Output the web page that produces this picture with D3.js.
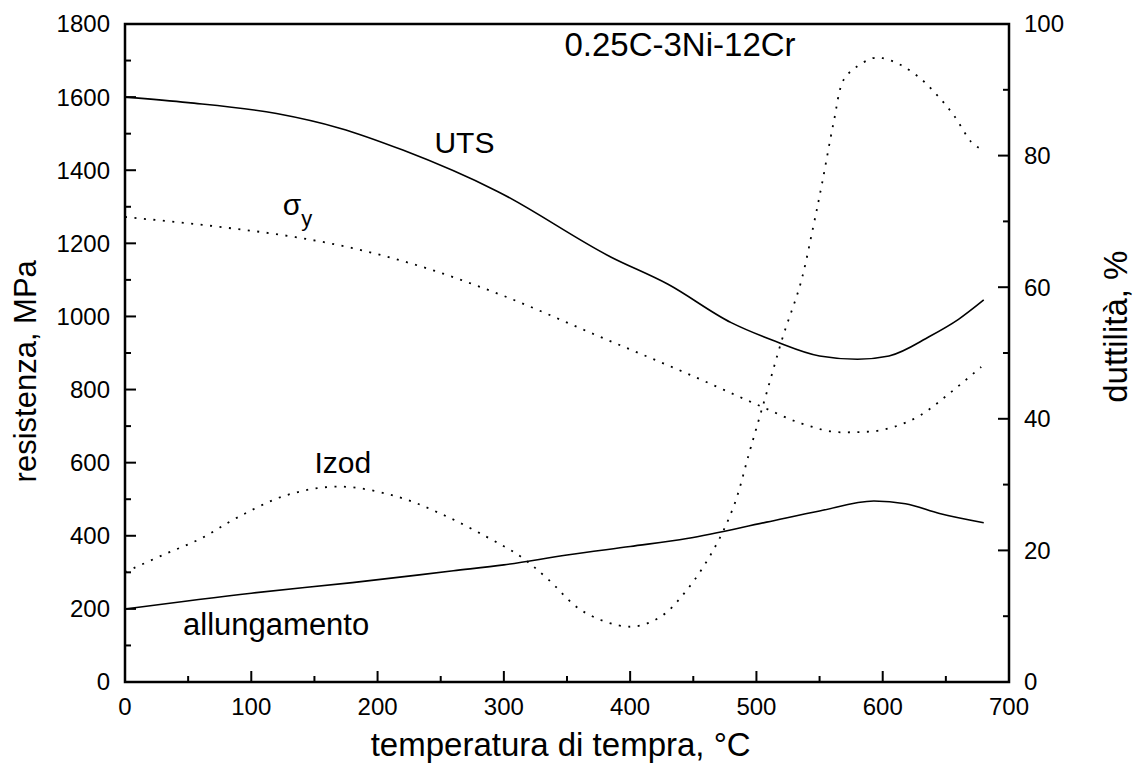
<!DOCTYPE html>
<html>
<head>
<meta charset="utf-8">
<script src="https://cdn.jsdelivr.net/npm/d3@7"></script>
<style>
  body { margin: 0; background: #fff; }
  svg { font-family: "Liberation Sans", Arial, sans-serif; }
  .tick-label { font-size: 24px; fill: #000; }
  .axis-title { font-size: 31px; fill: #000; }
  .label { font-size: 30px; fill: #000; }
</style>
</head>
<body>
<div id="chart"></div>
<script>
// temperatura di tempra (°C) vs resistenza (MPa) / duttilità (%)
let utsTemp = [0, 50, 120, 170, 220, 295, 385, 430, 480, 515, 550, 580, 605, 637, 660, 680];
let utsVal  = [1600, 1585, 1555, 1515, 1455, 1342, 1162, 1088, 983, 932, 892, 883, 892, 945, 992, 1045];

let yieldTemp = [0, 75, 135, 180, 235, 300, 375, 445, 505, 535, 568, 590, 608, 630, 653, 678];
let yieldVal  = [1272, 1245, 1217, 1187, 1136, 1056, 946, 844, 752, 708, 683, 685, 697, 730, 790, 862];

// right axis (%)
let izodTemp = [0, 30, 60, 90, 128, 170, 215, 252, 286, 313, 334, 363, 400, 424, 445, 466, 482, 495, 508, 521, 535, 545, 552, 561, 569, 578, 592, 600, 614, 630, 643, 656, 670, 676];
let izodVal  = [16.7, 19.3, 21.8, 25.1, 28.4, 29.7, 28.2, 25.4, 22.1, 19.1, 15.8, 10.7, 8.4, 9.9, 14.0, 20.1, 26.7, 35.3, 43.9, 52.5, 60.6, 69.2, 75.8, 84.9, 91.5, 93.3, 94.8, 94.8, 93.8, 91.7, 89.2, 86.2, 82.1, 81.2];

let elongTemp = [0, 100, 180, 260, 300, 350, 400, 445, 508, 550, 593, 618, 645, 680];
let elongVal  = [11.1, 13.5, 15.1, 16.9, 17.8, 19.3, 20.6, 21.8, 24.3, 26.0, 27.5, 27.1, 25.6, 24.2];

let xTicks = [0, 100, 200, 300, 400, 500, 600, 700];
let yLeftTicks = [0, 200, 400, 600, 800, 1000, 1200, 1400, 1600, 1800];
let yRightTicks = [0, 20, 40, 60, 80, 100];

let width = 1135;
let height = 774;
let margin = {left: 125, top: 24, right: 126, bottom: 92};
let plotW = width - margin.left - margin.right;
let plotH = height - margin.top - margin.bottom;

let svg = d3.select("#chart")
    .append("svg")
    .attr("width", width)
    .attr("height", height);

let x = d3.scaleLinear().domain([0, 700]).range([margin.left, margin.left + plotW]);
let yL = d3.scaleLinear().domain([0, 1800]).range([margin.top + plotH, margin.top]);
let yR = d3.scaleLinear().domain([0, 100]).range([margin.top + plotH, margin.top]);

// ticks (inward)
function ticks(values, minorValues, fn) {
    minorValues.forEach(v => fn(v, 6));
    values.forEach(v => fn(v, 11));
}

let tickG = svg.append("g").attr("stroke", "#000").attr("stroke-width", 2);

ticks(xTicks, d3.range(50, 700, 100), (v, len) => {
    tickG.append("line")
        .attr("x1", x(v)).attr("x2", x(v))
        .attr("y1", yL(0)).attr("y2", yL(0) - len);
});
ticks(yLeftTicks, d3.range(100, 1800, 200), (v, len) => {
    tickG.append("line")
        .attr("x1", x(0)).attr("x2", x(0) + len)
        .attr("y1", yL(v)).attr("y2", yL(v));
});
ticks(yRightTicks, d3.range(10, 100, 20), (v, len) => {
    tickG.append("line")
        .attr("x1", x(700)).attr("x2", x(700) - len)
        .attr("y1", yR(v)).attr("y2", yR(v));
});

// frame
svg.append("rect")
    .attr("x", margin.left)
    .attr("y", margin.top)
    .attr("width", plotW)
    .attr("height", plotH)
    .attr("fill", "none")
    .attr("stroke", "#000")
    .attr("stroke-width", 2.5);

// tick labels
svg.selectAll(".xlab")
    .data(xTicks)
    .enter()
    .append("text")
    .attr("class", "tick-label")
    .attr("x", d => x(d))
    .attr("y", yL(0) + 25)
    .attr("dy", "0.35em")
    .attr("text-anchor", "middle")
    .text(d => d);

svg.selectAll(".ylab")
    .data(yLeftTicks)
    .enter()
    .append("text")
    .attr("class", "tick-label")
    .attr("x", x(0) - 15)
    .attr("y", d => yL(d))
    .attr("dy", "0.35em")
    .attr("text-anchor", "end")
    .text(d => d);

svg.selectAll(".yrlab")
    .data(yRightTicks)
    .enter()
    .append("text")
    .attr("class", "tick-label")
    .attr("x", x(700) + 15)
    .attr("y", d => yR(d))
    .attr("dy", "0.35em")
    .attr("text-anchor", "start")
    .text(d => d);

// axis titles
svg.append("text")
    .attr("class", "axis-title")
    .attr("x", x(345))
    .attr("y", 756)
    .style("font-size", "33px")
    .attr("text-anchor", "middle")
    .text("temperatura di tempra, °C");

svg.append("text")
    .attr("class", "axis-title")
    .attr("transform", "translate(36," + yL(850) + ") rotate(-90)")
    .attr("text-anchor", "middle")
    .text("resistenza, MPa");

svg.append("text")
    .attr("class", "axis-title")
    .attr("transform", "translate(1127," + yR(54) + ") rotate(-90)")
    .style("font-size", "33px")
    .attr("text-anchor", "middle")
    .text("duttilità, %");

// curves
let lineL = d3.line()
    .x(d => x(d[0]))
    .y(d => yL(d[1]))
    .curve(d3.curveMonotoneX);

let lineR = d3.line()
    .x(d => x(d[0]))
    .y(d => yR(d[1]))
    .curve(d3.curveMonotoneX);

svg.append("path")
    .datum(d3.zip(utsTemp, utsVal))
    .attr("d", lineL)
    .attr("fill", "none")
    .attr("stroke", "#000")
    .attr("stroke-width", 1.6);

svg.append("path")
    .datum(d3.zip(yieldTemp, yieldVal))
    .attr("d", lineL)
    .attr("fill", "none")
    .attr("stroke", "#000")
    .attr("stroke-width", 1.8)
    .attr("stroke-dasharray", "2,7.5");

svg.append("path")
    .datum(d3.zip(izodTemp, izodVal))
    .attr("d", lineR.curve(d3.curveCatmullRom))
    .attr("fill", "none")
    .attr("stroke", "#000")
    .attr("stroke-width", 1.8)
    .attr("stroke-dasharray", "2,7.5");

svg.append("path")
    .datum(d3.zip(elongTemp, elongVal))
    .attr("d", lineR.curve(d3.curveMonotoneX))
    .attr("fill", "none")
    .attr("stroke", "#000")
    .attr("stroke-width", 1.6);

// curve labels
svg.append("text").attr("class", "label")
    .attr("x", x(348)).attr("y", yL(1712))
    .style("font-size", "33px")
    .text("0.25C-3Ni-12Cr");

svg.append("text").attr("class", "label")
    .attr("x", x(245)).attr("y", yL(1447))
    .text("UTS");

let sigma = svg.append("text").attr("class", "label")
    .attr("x", x(125)).attr("y", yL(1277));
sigma.append("tspan").text("σ");
sigma.append("tspan").attr("dy", 11).style("font-size", "22px").text("y");

svg.append("text").attr("class", "label")
    .attr("x", x(150)).attr("y", yL(572))
    .text("Izod");

svg.append("text").attr("class", "label")
    .attr("x", x(46)).attr("y", yL(128))
    .style("font-size", "31px")
    .text("allungamento");
</script>
</body>
</html>
